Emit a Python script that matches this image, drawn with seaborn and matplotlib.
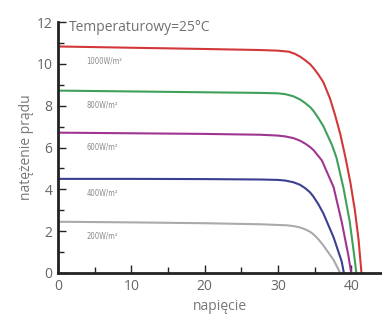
import matplotlib
matplotlib.use('Agg')
import matplotlib.pyplot as plt
import seaborn as sns
import pandas as pd

# I-V curves (napięcie [V], natężenie prądu [A])
v_1000 = [0, 10, 20, 27.6, 30, 31.5, 32.3, 33.0, 33.7, 34.4, 34.85, 35.5, 36.2, 37.1, 37.8, 38.5, 39.2, 39.9, 40.5, 41.0, 41.4]
i_1000 = [10.83, 10.77, 10.71, 10.66, 10.63, 10.58, 10.48, 10.35, 10.18, 9.98, 9.8, 9.5, 9.12, 8.35, 7.55, 6.65, 5.55, 4.3, 3.0, 1.6, 0]

v_800 = [0, 10, 20, 27.6, 30, 31.0, 32.1, 33.0, 33.7, 34.4, 34.85, 35.5, 36.2, 37.4, 38.0, 38.95, 39.8, 40.4, 40.7]
i_800 = [8.72, 8.68, 8.64, 8.61, 8.59, 8.55, 8.45, 8.3, 8.13, 7.93, 7.75, 7.42, 7.02, 6.1, 5.5, 4.05, 2.45, 0.86, 0]

v_600 = [0, 10, 20, 27.6, 30, 31.0, 32.1, 33.0, 33.7, 34.4, 34.85, 36.0, 37.6, 38.7, 39.6, 40.0]
i_600 = [6.71, 6.68, 6.65, 6.61, 6.57, 6.53, 6.45, 6.33, 6.19, 6.02, 5.88, 5.38, 4.1, 2.45, 0.86, 0]

v_400 = [0, 10, 20, 27.6, 30, 31.0, 32.1, 33.0, 33.7, 34.4, 34.85, 35.5, 36.2, 37.6, 38.7, 39.0]
i_400 = [4.5, 4.5, 4.49, 4.47, 4.45, 4.42, 4.34, 4.22, 4.06, 3.85, 3.65, 3.3, 2.85, 1.7, 0.55, 0]

v_200 = [0, 10, 20, 27.6, 31.2, 32.2, 33.0, 33.7, 34.4, 34.85, 35.5, 36.2, 37.6, 38.5]
i_200 = [2.45, 2.42, 2.38, 2.33, 2.28, 2.24, 2.18, 2.09, 1.97, 1.85, 1.62, 1.32, 0.62, 0]

series_names = ['1000W/m²', '800W/m²', '600W/m²', '400W/m²', '200W/m²']
colors = ['#d2373a', '#3fa05a', '#a03591', '#3b3f8f', '#aaaaaa']

curves = [(v_1000, i_1000), (v_800, i_800), (v_600, i_600), (v_400, i_400), (v_200, i_200)]
rows = []
for name, (vs, cs) in zip(series_names, curves):
    for v, c in zip(vs, cs):
        rows.append({'napięcie': v, 'prąd': c, 'seria': name})
df = pd.DataFrame(rows)

sns.set_style('white')
plt.rcParams['font.family'] = ['Open Sans', 'DejaVu Sans']

fig = plt.figure(figsize=(3.82, 3.14), dpi=100)
ax = fig.add_axes([58 / 382, 1 - 273 / 314, 1 - 58 / 382, (273 - 22) / 314])

sns.lineplot(data=df, x='napięcie', y='prąd', hue='seria', palette=dict(zip(series_names, colors)),
             sort=False, estimator=None, legend=False, linewidth=1.5, ax=ax)

# irradiance labels just under each flat part
for name, cs in zip(series_names, [i_1000, i_800, i_600, i_400, i_200]):
    ax.text(3.9, cs[0] - 0.68, name, fontsize=5.5, color='#8a8a8a', va='center', ha='left',
            family=['DejaVu Sans'], fontstretch='condensed')

ax.text(0.035, 0.98, 'Temperaturowy=25°C', transform=ax.transAxes, fontsize=10,
        color='#707070', va='center', ha='left')

ax.set_xlim(0, 44.2)
ax.set_ylim(0, 12)
ax.set_xticks([0, 10, 20, 30, 40])
ax.set_xticks([5, 15, 25, 35], minor=True)
ax.set_yticks([0, 2, 4, 6, 8, 10, 12])
ax.set_yticks([1, 3, 5, 7, 9, 11], minor=True)
ax.tick_params(which='major', direction='in', length=6, width=1, color='#222222',
               labelsize=10, labelcolor='#666666', pad=4)
ax.tick_params(which='minor', direction='in', length=4, width=1, color='#222222')
ax.tick_params(axis='x', which='both', bottom=True)
ax.tick_params(axis='y', which='both', left=True)

for side in ['top', 'right']:
    ax.spines[side].set_visible(False)
for side in ['left', 'bottom']:
    ax.spines[side].set_color('#222222')
    ax.spines[side].set_linewidth(2)

ax.set_xlabel('napięcie', fontsize=10, color='#777777', labelpad=4)
ax.set_ylabel('natężenie prądu', fontsize=10, color='#777777', labelpad=2)

fig.savefig('out.png', dpi=100)
